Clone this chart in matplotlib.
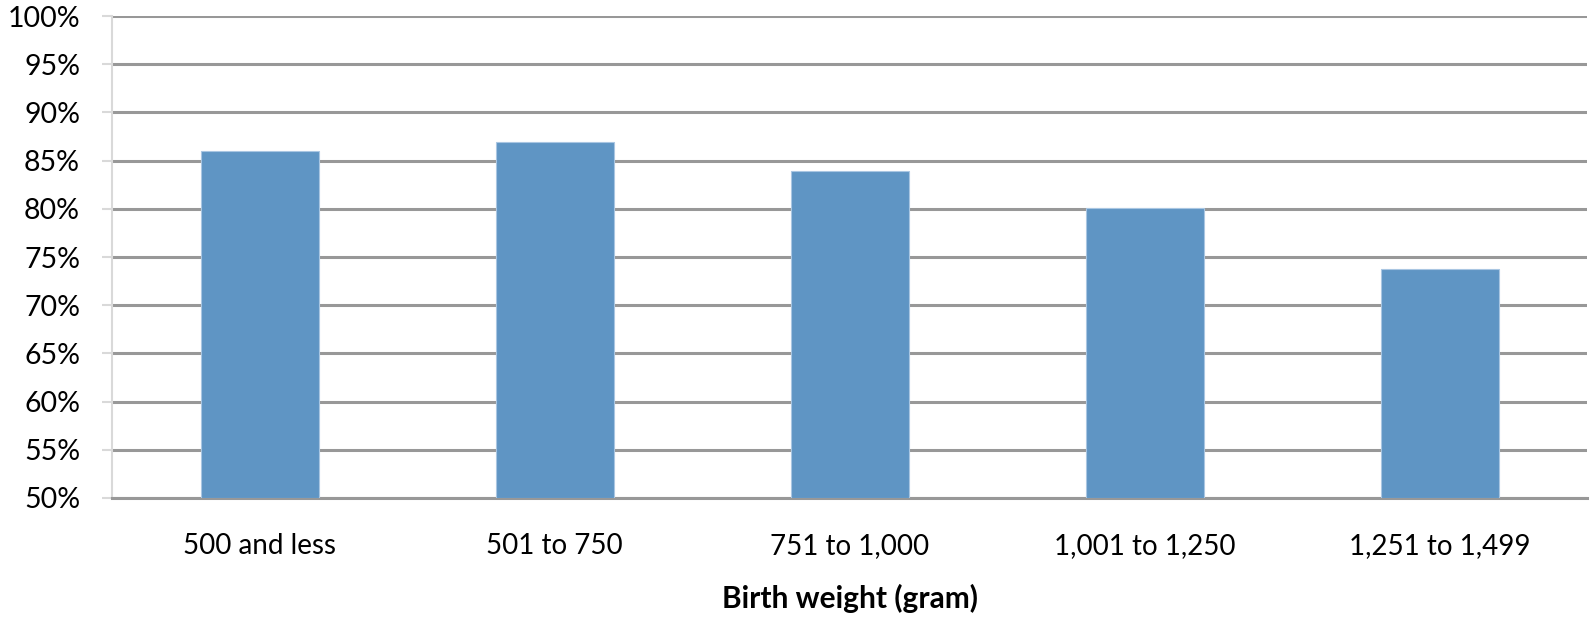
import matplotlib
matplotlib.use("Agg")
import matplotlib.pyplot as plt
from matplotlib.ticker import FuncFormatter

categories = ["500 and less", "501 to 750", "751 to 1,000", "1,001 to 1,250", "1,251 to 1,499"]
values = [86.0, 86.9, 83.9, 80.1, 73.8]
y_ticks = [50, 55, 60, 65, 70, 75, 80, 85, 90, 95, 100]

plt.rcParams["font.family"] = ["Lato", "DejaVu Sans"]

fig = plt.figure(figsize=(15.91, 6.26), dpi=100)
ax = fig.add_axes([0.0704, 0.2045, 0.9271, 0.7699])

x = list(range(len(categories)))
ax.bar(x, [v - 50 for v in values], bottom=50, width=0.4, color="#5f95c4",
       edgecolor="#a9c6e2", linewidth=0.8, zorder=3)

ax.set_xlim(-0.5, len(categories) - 0.5)
ax.set_ylim(50, 100)
ax.set_yticks(y_ticks)
ax.yaxis.set_major_formatter(FuncFormatter(lambda v, p: f"{v:.0f}%"))
ax.set_xticks(x)
ax.set_xticklabels(categories)

ax.grid(axis="y", color="#989898", linewidth=2.2, zorder=0)
for s in ["top", "right"]:
    ax.spines[s].set_visible(False)
ax.spines["left"].set_color("#d9d9d9")
ax.spines["left"].set_linewidth(1.5)
ax.spines["bottom"].set_color("#989898")
ax.spines["bottom"].set_linewidth(2.2)

ax.tick_params(axis="y", length=7, width=1.5, color="#d9d9d9", labelsize=20.5, pad=16)
ax.tick_params(axis="x", length=0, labelsize=20, pad=25)

ax.set_xlabel("Birth weight (gram)", fontsize=21.5, fontweight="bold", labelpad=18)

fig.savefig("out.png", dpi=100, facecolor="white")
